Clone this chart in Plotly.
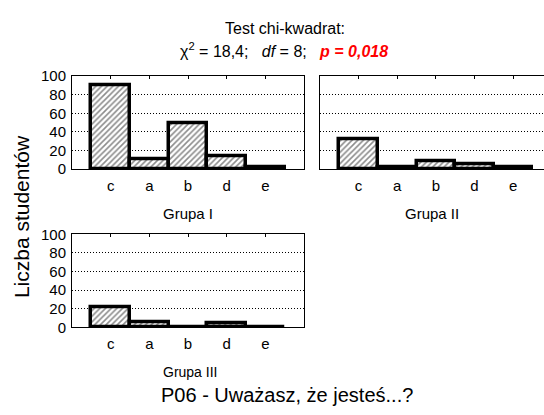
import plotly.graph_objects as go

categories = ["c", "a", "b", "d", "e"]
grupa_1 = [90, 11, 50, 14, 2]
grupa_2 = [32, 2, 9, 5, 2]
grupa_3 = [21, 5, 0.5, 4, 0.5]
group_names = ["Grupa I", "Grupa II", "Grupa III"]
y_ticks = [0, 20, 40, 60, 80, 100]

W, H = 544, 415
FONT = "Liberation Sans, Arial, sans-serif"

def fx(px):
    return px / W

def fy(py):
    return 1 - py / H

panels = [
    dict(vals=grupa_1, x=(72, 304), y=(70, 167), xr=[-1, 5], lab=(188, 213), lab_size=15),
    dict(vals=grupa_2, x=(320, 544), y=(70, 167), xr=[-1, 4.8], lab=(432, 213), lab_size=15),
    dict(vals=grupa_3, x=(72, 304), y=(235, 332), xr=[-1, 5], lab=(190, 379), lab_size=14),
]

fig = go.Figure()
layout = {}
annotations = []
for i, p in enumerate(panels):
    n = i + 1
    xa = "x" if n == 1 else f"x{n}"
    ya = "y" if n == 1 else f"y{n}"
    fig.add_trace(go.Bar(
        x=categories, y=p["vals"], xaxis=xa, yaxis=ya, width=1.0,
        marker=dict(color="white",
                    line=dict(color="black", width=3.5),
                    pattern=dict(shape="/", fgcolor="#1a1a1a", bgcolor="white",
                                 size=4, solidity=0.4)),
        showlegend=False, hoverinfo="skip",
    ))
    xkey = "xaxis" if n == 1 else f"xaxis{n}"
    ykey = "yaxis" if n == 1 else f"yaxis{n}"
    layout[xkey] = dict(
        domain=[fx(p["x"][0]), fx(p["x"][1])], anchor=ya,
        type="category", categoryorder="array", categoryarray=categories,
        range=p["xr"], showgrid=False, zeroline=False,
        showline=True, linecolor="black", linewidth=1, mirror=True,
        ticks="", tickfont=dict(family=FONT, size=15, color="black"),
        ticklabelstandoff=3, fixedrange=True,
    )
    layout[ykey] = dict(
        domain=[fy(p["y"][1]), fy(p["y"][0])], anchor=xa,
        range=[0, 100], tickvals=y_ticks,
        showticklabels=(n != 2),
        showgrid=True, gridcolor="black", gridwidth=1, griddash="1px,2px",
        zeroline=False, showline=True, linecolor="black", linewidth=1,
        mirror=(n != 2), ticks="",
        tickfont=dict(family=FONT, size=15, color="black"),
        ticklabelstandoff=2, fixedrange=True,
    )
    # top tick marks at category centres via an overlaying linear axis
    tkey = f"xaxis{n + 3}"
    layout[tkey] = dict(
        overlaying=xa, side="top", anchor=ya, type="linear",
        range=p["xr"], tickvals=list(range(len(categories))),
        showgrid=False, zeroline=False, showline=False,
        ticks="inside", ticklen=3, tickcolor="black", tickwidth=1,
        showticklabels=False, fixedrange=True,
    )
    fig.add_trace(go.Scatter(x=[0], y=[0], xaxis=f"x{n + 3}", yaxis=ya,
                             mode="markers", marker=dict(opacity=0, size=1),
                             showlegend=False, hoverinfo="skip"))
    annotations.append(dict(
        text=group_names[i], xref="paper", yref="paper",
        x=fx(p["lab"][0]), y=fy(p["lab"][1]), showarrow=False,
        xanchor="center", yanchor="middle",
        font=dict(family=FONT, size=p["lab_size"], color="black"),
    ))

annotations += [
    dict(text="Test chi-kwadrat:", xref="paper", yref="paper", x=fx(285), y=fy(20),
         showarrow=False, xanchor="center", yanchor="middle",
         font=dict(family=FONT, size=16, color="black")),
    dict(text="χ<sup>2</sup> = 18,4;\u00a0\u00a0\u00a0<i>df</i> = 8;\u00a0\u00a0\u00a0"
              "<span style='color:#ff0000'><b><i>p = 0,018</i></b></span>",
         xref="paper", yref="paper", x=fx(284), y=fy(43),
         showarrow=False, xanchor="center", yanchor="middle",
         font=dict(family=FONT, size=16, color="black")),
    dict(text="Liczba studentów", xref="paper", yref="paper", x=fx(21), y=fy(217),
         showarrow=False, textangle=-90, xanchor="center", yanchor="middle",
         font=dict(family=FONT, size=21, color="black")),
    dict(text="P06 - Uważasz, że jesteś...?", xref="paper", yref="paper",
         x=fx(287), y=fy(403), showarrow=False, xanchor="center", yanchor="middle",
         font=dict(family=FONT, size=20, color="black")),
]

fig.update_layout(
    width=W, height=H, margin=dict(l=0, r=0, t=0, b=0),
    paper_bgcolor="white", plot_bgcolor="white",
    bargap=0, annotations=annotations, **layout,
)

fig.write_html("out.html", config={"displayModeBar": False})
